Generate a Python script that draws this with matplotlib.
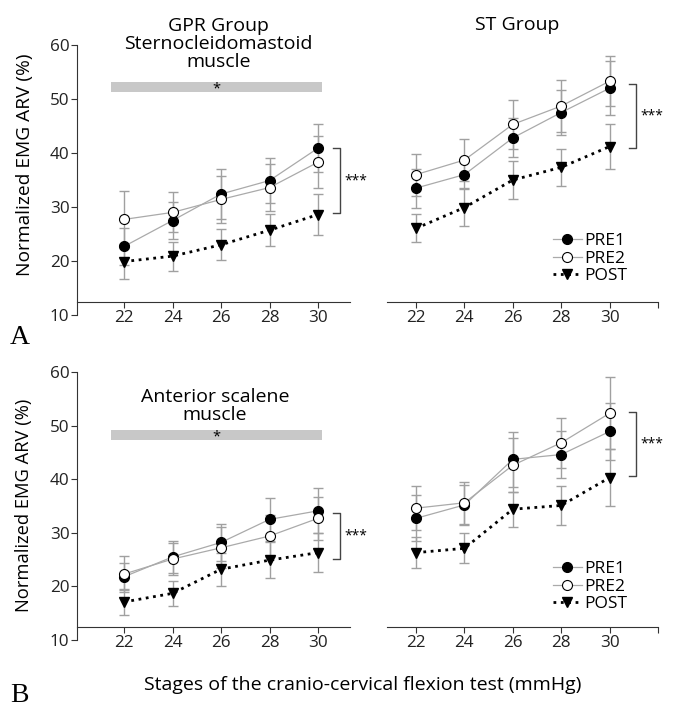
import matplotlib.pyplot as plt
import numpy as np

plt.rcParams['font.family'] = ['Open Sans', 'DejaVu Sans']

stages = np.array([22, 24, 26, 28, 30])

# GPR group, sternocleidomastoid
gpr_scm_pre1 = [22.7, 27.5, 32.4, 34.9, 40.9]
gpr_scm_pre1_sd = [3.35, 3.5, 4.6, 4.1, 4.5]
gpr_scm_pre2 = [27.7, 29.0, 31.4, 33.6, 38.3]
gpr_scm_pre2_sd = [5.3, 3.7, 4.4, 4.4, 4.8]
gpr_scm_post = [19.9, 20.9, 23.0, 25.7, 28.6]
gpr_scm_post_sd = [3.3, 2.7, 2.9, 3.0, 3.8]

# ST group, sternocleidomastoid
st_scm_pre1 = [33.5, 36.0, 42.8, 47.5, 52.0]
st_scm_pre1_sd = [3.6, 2.5, 3.6, 4.2, 5.0]
st_scm_pre2 = [36.0, 38.7, 45.3, 48.7, 53.3]
st_scm_pre2_sd = [3.9, 3.8, 4.5, 4.9, 4.6]
st_scm_post = [26.05, 29.9, 35.0, 37.35, 41.2]
st_scm_post_sd = [2.6, 3.4, 3.6, 3.4, 4.2]

# GPR group, anterior scalene
gpr_as_pre1 = [21.8, 25.5, 28.2, 32.5, 34.1]
gpr_as_pre1_sd = [2.5, 3.0, 3.5, 4.0, 4.2]
gpr_as_pre2 = [22.3, 25.1, 27.2, 29.4, 32.7]
gpr_as_pre2_sd = [3.4, 3.0, 3.8, 4.0, 4.0]
gpr_as_post = [17.1, 18.7, 23.2, 24.9, 26.3]
gpr_as_post_sd = [2.4, 2.3, 3.1, 3.3, 3.6]

# ST group, anterior scalene
st_as_pre1 = [32.7, 35.2, 43.7, 44.6, 48.9]
st_as_pre1_sd = [4.3, 3.8, 5.1, 4.3, 5.3]
st_as_pre2 = [34.6, 35.6, 42.6, 46.8, 52.3]
st_as_pre2_sd = [4.1, 3.9, 5.0, 4.7, 6.7]
st_as_post = [26.3, 27.1, 34.4, 35.1, 40.3]
st_as_post_sd = [2.9, 2.8, 3.3, 3.6, 5.3]

# significance brackets at stage 30: (top, bottom)
brackets = [(40.9, 28.9), (52.8, 40.9), (33.7, 25.1), (52.5, 40.6)]
# grey "*" bars (ymin, ymax) for the GPR panels
star_bars = [(51.3, 53.1), (47.3, 49.2)]
star_span = (21.46, 30.16)

W, H = 677, 718
fig = plt.figure(figsize=(6.77, 7.18), dpi=100)

def px_axes(x0, x1, ytop, ybot):
    return fig.add_axes([x0 / W, 1 - ybot / H, (x1 - x0) / W, (ybot - ytop) / H])

ax_tl = px_axes(77, 350, 45, 315)
ax_tr = px_axes(387, 658, 45, 315)
ax_bl = px_axes(77, 350, 372, 640)
ax_br = px_axes(387, 658, 372, 640)

panels = [
    (ax_tl, gpr_scm_pre1, gpr_scm_pre1_sd, gpr_scm_pre2, gpr_scm_pre2_sd, gpr_scm_post, gpr_scm_post_sd),
    (ax_tr, st_scm_pre1, st_scm_pre1_sd, st_scm_pre2, st_scm_pre2_sd, st_scm_post, st_scm_post_sd),
    (ax_bl, gpr_as_pre1, gpr_as_pre1_sd, gpr_as_pre2, gpr_as_pre2_sd, gpr_as_post, gpr_as_post_sd),
    (ax_br, st_as_pre1, st_as_pre1_sd, st_as_pre2, st_as_pre2_sd, st_as_post, st_as_post_sd),
]

axis_col = '#333333'
for i, (ax, p1, s1, p2, s2, po, so) in enumerate(panels):
    left = i % 2 == 0
    for y, s in [(p1, s1), (p2, s2), (po, so)]:
        ax.errorbar(stages, y, yerr=s, fmt='none', ecolor='#a0a0a0', elinewidth=1,
                    capsize=3.5, capthick=1, zorder=1)
    ax.plot(stages, p1, color='#aaaaaa', lw=0.9, marker='o', ms=7.2, mfc='black',
            mec='black', mew=0.8, zorder=3, label='PRE1')
    ax.plot(stages, p2, color='#aaaaaa', lw=0.9, marker='o', ms=7.2, mfc='white',
            mec='black', mew=0.8, zorder=3, label='PRE2')
    ax.plot(stages, po, color='black', lw=2, ls=':', marker='v', ms=7.2, mfc='black',
            mec='black', zorder=3, label='POST')

    ax.set_ylim(10, 60)
    if left:
        ax.set_xlim(20.06, 31.32)
        ax.set_xticks(stages)
    else:
        ax.set_xlim(20.8, 32.0)
        ax.set_xticks(list(stages) + [32])
        ax.set_xticklabels([str(s) for s in stages] + [''])
    ax.set_yticks([10, 20, 30, 40, 50, 60])
    ax.spines['top'].set_visible(False)
    ax.spines['right'].set_visible(False)
    ax.spines['bottom'].set_position(('data', 12.4))
    ax.spines['bottom'].set_color(axis_col)
    ax.spines['left'].set_color(axis_col)
    ax.tick_params(direction='out', length=4, width=0.8, colors=axis_col,
                   labelcolor='#222222', labelsize=12.3, pad=1.5)
    if not left:
        ax.spines['left'].set_visible(False)
        ax.tick_params(axis='y', left=False, labelleft=False)
    ax.patch.set_visible(False)

    # bracket with ***
    top, bot = brackets[i]
    bx0, bx1 = (30.62, 30.9) if left else (30.79, 31.08)
    ax.plot([bx0, bx1, bx1, bx0], [top, top, bot, bot], color='#444444', lw=1,
            clip_on=False)
    ax.text(bx1 + 0.2, (top + bot) / 2, '***', fontsize=10, ha='left', va='center',
            clip_on=False)

for ax, (y0, y1) in zip([ax_tl, ax_bl], star_bars):
    ax.barh((y0 + y1) / 2, star_span[1] - star_span[0], left=star_span[0],
            height=y1 - y0, color='#c8c8c8', zorder=0)
    ax.text(sum(star_span) / 2, (y0 + y1) / 2 - 0.3, '*', ha='center', va='center',
            fontsize=10.5)

ax_tl.text(25.9, 60.2, 'GPR Group\nSternocleidomastoid\nmuscle', ha='center',
           va='center', fontsize=14, linespacing=1.0, clip_on=False)
ax_tr.text(26.17, 63.7, 'ST Group', ha='center', va='center', fontsize=14,
           clip_on=False)
ax_bl.text(25.75, 53.65, 'Anterior scalene\nmuscle', ha='center', va='center',
           fontsize=14, linespacing=0.95)

for ax, ytop in [(ax_tr, (315 - 233) / 270), (ax_br, (640 - 561) / 268)]:
    ax.legend(loc='upper left', bbox_to_anchor=((553 - 387) / 271, ytop), frameon=False,
              fontsize=12.5, handlelength=1.65, handletextpad=0.15, labelspacing=0.08,
              borderpad=0, borderaxespad=0, numpoints=1)

fig.text(25 / W, 1 - 165 / H, 'Normalized EMG ARV (%)', rotation=90, ha='center',
         va='center', fontsize=13.8)
fig.text(24 / W, 1 - 505 / H, 'Normalized EMG ARV (%)', rotation=90, ha='center',
         va='center', fontsize=13.2)
fig.text(363 / W, 1 - 685 / H, 'Stages of the cranio-cervical flexion test (mmHg)',
         ha='center', va='center', fontsize=14)
fig.text(20 / W, 1 - 338 / H, 'A', family='Liberation Serif', fontsize=20,
         ha='center', va='center')
fig.text(19 / W, 1 - 695 / H, 'B', family='Liberation Serif', fontsize=20,
         ha='center', va='center')

fig.savefig('out.png', dpi=100)
